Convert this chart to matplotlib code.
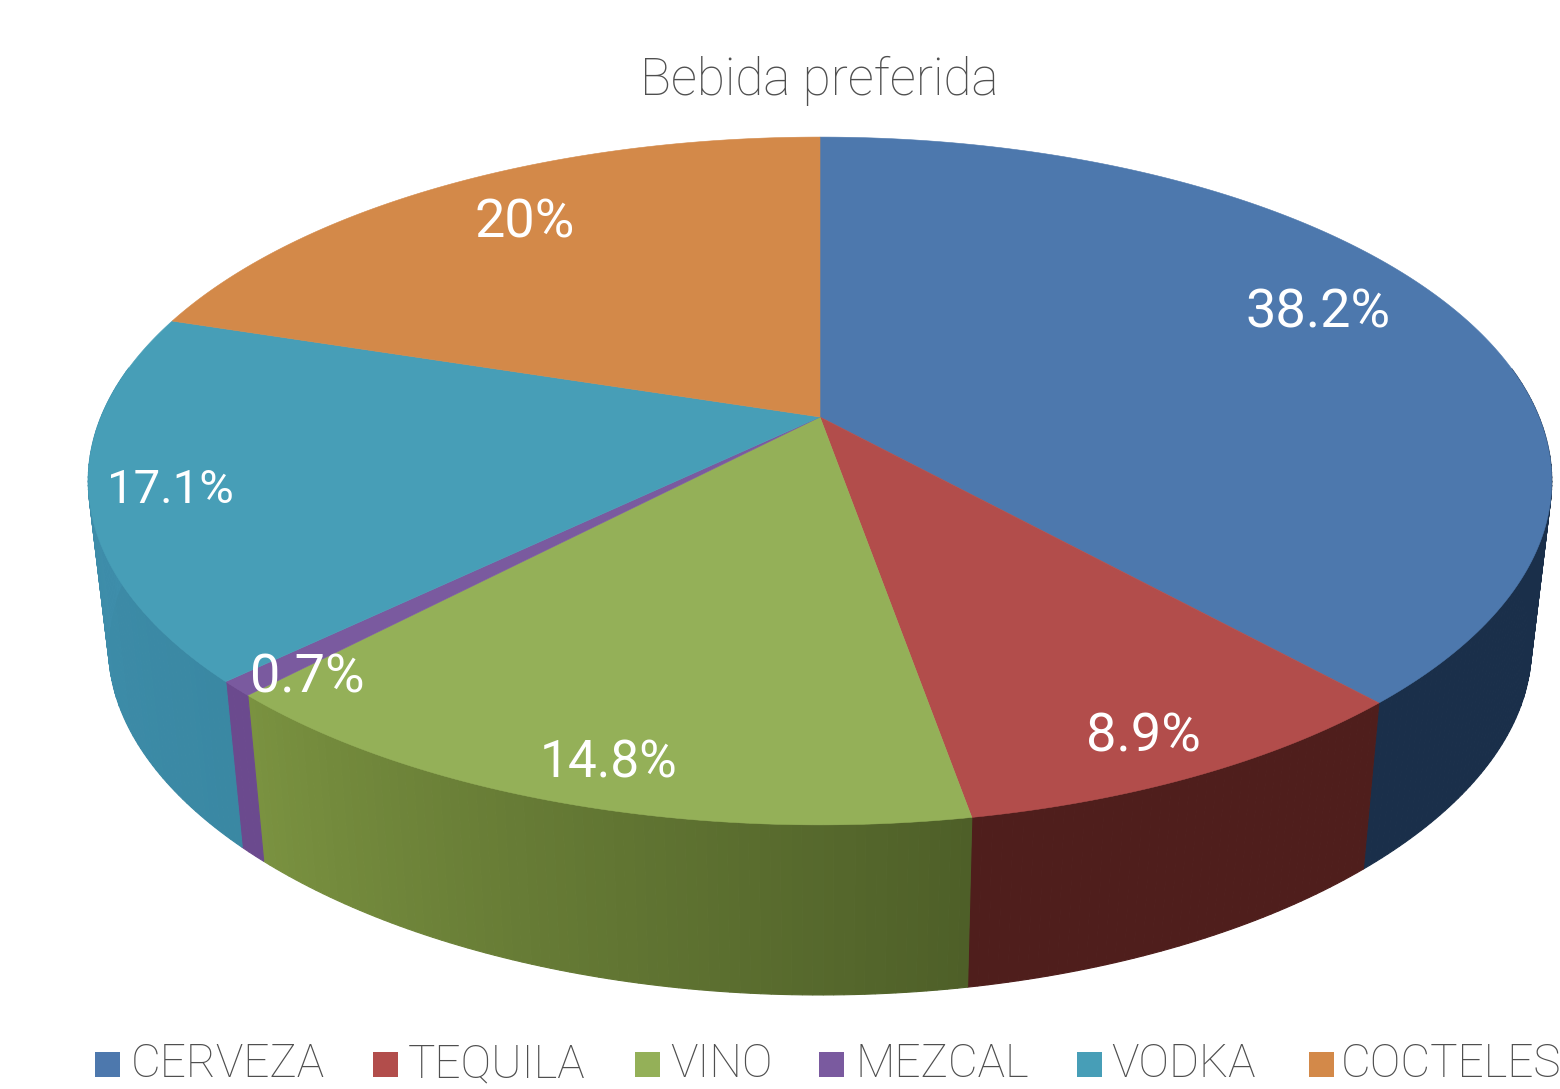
import numpy as np
import matplotlib
matplotlib.use("Agg")
import matplotlib.pyplot as plt
from matplotlib.patches import Polygon, Rectangle

categories = ["CERVEZA", "TEQUILA", "VINO", "MEZCAL", "VODKA", "COCTELES"]
values = [38.2, 8.9, 14.8, 0.7, 17.1, 20.0]
value_labels = ["38.2%", "8.9%", "14.8%", "0.7%", "17.1%", "20%"]
title = "Bebida preferida"

top_colors = ["#4d78ad", "#b24d4b", "#94b058", "#7a5a9f", "#479eb7", "#d38949"]
# wall colour at the clockwise start and end of every slice
wall_start = ["#1a2f4a", "#4f1e1c", "#4e5f28", "#6b4a8e", "#3a88a3", "#d38949"]
wall_end = ["#1a2f4a", "#4f1e1c", "#7a9240", "#6b4a8e", "#4090ae", "#d38949"]

label_pos = [(1318, 313), (1143, 737), (609, 763), (307, 678), (170, 490), (525, 223)]
label_size = [39, 39, 37, 39, 34, 39]
legend_key_x = [95, 373, 635, 819, 1077, 1309]
legend_text_x = [131, 408, 670, 856, 1111, 1341]

FONT = "Roboto"
W, H = 1560, 1089
fig = plt.figure(figsize=(W / 100, H / 100), dpi=100, facecolor="white")
ax = fig.add_axes([0, 0, 1, 1])
ax.set_xlim(0, W)
ax.set_ylim(H, 0)
ax.axis("off")


def project(theta, cx, cy, a, b, kx, ky):
    u, v = np.sin(theta), -np.cos(theta)
    return cx + a * u / (1 - kx * v), cy + b * v / (1 - ky * v)


TOP = dict(cx=820, cy=417, a=719, b=332, kx=0.186, ky=0.186)
BOT = dict(cx=820, cy=586, a=699, b=319, kx=0.186, ky=0.22)

fractions = np.array(values) / np.sum(values)
edges = np.concatenate([[0], np.cumsum(fractions)]) * 2 * np.pi


def rgb(c):
    return np.array(matplotlib.colors.to_rgb(c))


# side walls
for i in range(len(values)):
    t0, t1 = edges[i], edges[i + 1]
    n = max(2, int((t1 - t0) / 0.012))
    ts = np.linspace(t0, t1, n + 1)
    c0, c1 = rgb(wall_start[i]), rgb(wall_end[i])
    for j in range(n):
        a0, a1 = ts[j], ts[j + 1]
        if np.cos((a0 + a1) / 2) > 0.15:
            continue
        x0, y0 = project(a0, **TOP)
        x1, y1 = project(a1, **TOP)
        x2, y2 = project(a1, **BOT)
        x3, y3 = project(a0, **BOT)
        col = c0 + (c1 - c0) * (j + 0.5) / n
        ax.add_patch(Polygon([(x0, y0), (x1, y1), (x2, y2), (x3, y3)],
                             facecolor=col, edgecolor=col, lw=0.8))

# top surface
for i in range(len(values)):
    ts = np.linspace(edges[i], edges[i + 1], 200)
    xs, ys = project(ts, **TOP)
    pts = [(TOP["cx"], TOP["cy"])] + list(zip(xs, ys))
    ax.add_patch(Polygon(pts, facecolor=top_colors[i], edgecolor=top_colors[i], lw=0.4, zorder=3))

ax.text(819, 81, title, ha="center", va="center", fontsize=37, color="#4f4f4f",
        family=FONT, weight="light", zorder=5)

for (x, y), s, fs in zip(label_pos, value_labels, label_size):
    ax.text(x, y, s, ha="center", va="center", fontsize=fs, color="white",
            family=FONT, weight="normal", zorder=5)

for name, kx, tx, c in zip(categories, legend_key_x, legend_text_x, top_colors):
    ax.add_patch(Rectangle((kx, 1052), 25, 25, facecolor=c, edgecolor="none", zorder=5))
    ax.text(tx, 1064, name, ha="left", va="center", fontsize=33, color="#4f4f4f",
            family=FONT, weight="light", zorder=5)

fig.savefig("out.png", dpi=100, facecolor="white")
